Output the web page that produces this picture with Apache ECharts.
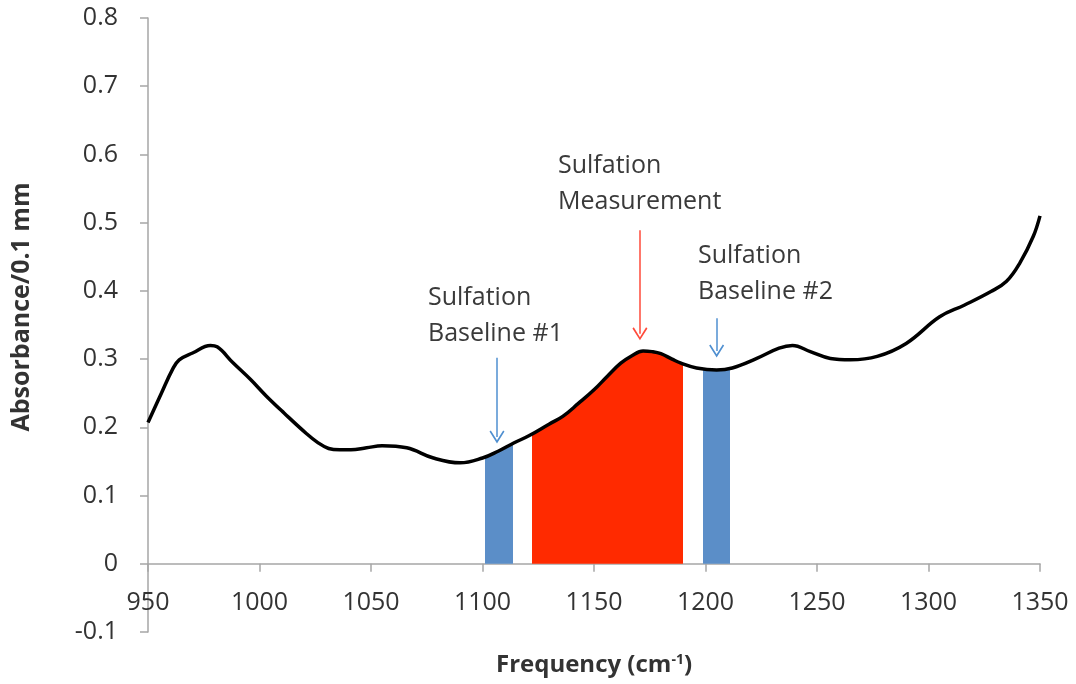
<!DOCTYPE html>
<html lang="en">
<head>
    <meta charset="UTF-8">
    <title>Sulfation</title>
    <script src="https://cdn.jsdelivr.net/npm/echarts@6/dist/echarts.min.js"></script>
</head>
<style>
    *{
        margin: 0;
        padding: 0;
    }
    html,body{
        width: 100%;
        height: 100%;
        overflow: hidden;
        background: #fff;
    }
    .container{
        width: 1076px;
        height: 684px;
    }
</style>
<body>
<div class="container"></div>
<script>
    // spectrum
    let freq = [950, 956, 961, 964, 970, 978, 981, 988, 996, 1003, 1011, 1021, 1026, 1031, 1036, 1041, 1048, 1055, 1066,
        1078, 1090, 1100, 1107, 1114, 1121, 1130, 1136, 1143, 1150, 1156, 1162, 1167, 1172, 1176, 1180,
        1185, 1189, 1196, 1205, 1212, 1223, 1233, 1239, 1247, 1256, 1265, 1277, 1290, 1305, 1316, 1328,
        1335, 1341, 1347, 1350];
    let absorbance = [0.207, 0.250, 0.285, 0.299, 0.309, 0.320, 0.318, 0.295, 0.270, 0.246, 0.221, 0.191,
        0.178, 0.169, 0.167, 0.167, 0.170, 0.173, 0.170, 0.155, 0.148, 0.155, 0.165, 0.177, 0.188, 0.205, 0.216, 0.235, 0.255,
        0.275, 0.294, 0.305, 0.312, 0.311, 0.308, 0.300, 0.294, 0.287, 0.284, 0.287, 0.301, 0.316, 0.320,
        0.311, 0.301, 0.299, 0.304, 0.323, 0.362, 0.379, 0.399, 0.414, 0.441, 0.480, 0.510];

    // shaded bands [from, to]
    let baseline1 = [1101, 1113.5];
    let measurement = [1122, 1190];
    let baseline2 = [1199, 1211];

    // arrows: [x, yStart, yEnd]
    let arrowB1 = [1106.5, 0.302, 0.186];
    let arrowM = [1170.6, 0.489, 0.337];
    let arrowB2 = [1205, 0.360, 0.312];

    let notes = [
        {text: 'Sulfation\nBaseline #1', left: 428, top: 280},
        {text: 'Sulfation\nMeasurement', left: 558, top: 148},
        {text: 'Sulfation\nBaseline #2', left: 698, top: 238}
    ];

    let yMin = -0.1, yMax = 0.8;
    let blue = '#5b8ec8';
    let red = '#ff2a00';
    let font = 'Open Sans';

    let data = freq.map((f, i) => [f, absorbance[i]]);

    let chevron = 'path://M50,0 L100,82 L91,90 L50,22 L9,90 L0,82 Z';
    let arrow = (a, color) => [
        {coord: [a[0], a[1]], lineStyle: {color: color, width: 1.5, type: 'solid'}, symbol: 'none'},
        {coord: [a[0], a[2]], symbol: chevron, symbolSize: [15, 13]}
    ];

    let gridTop = 18, gridBottom = 52;
    let plotH = 684 - gridTop - gridBottom;
    // x axis sits at y = 0
    let zeroOffset = -plotH * (0 - yMin) / (yMax - yMin);

    let mycharts = echarts.init(document.querySelector('.container'));

    let option = {
        animation: false,
        grid: {
            left: 148,
            right: 36,
            top: gridTop,
            bottom: gridBottom,
            outerBoundsMode: 'none'
        },
        xAxis: {
            type: 'value',
            min: 950,
            max: 1350,
            interval: 50,
            position: 'bottom',
            offset: zeroOffset,
            name: 'Frequency (cm{sup|-1})',
            nameLocation: 'middle',
            nameGap: 89,
            nameTextStyle: {
                fontFamily: font,
                fontWeight: 'bold',
                fontSize: 24,
                color: '#333',
                rich: {
                    sup: {fontFamily: font, fontWeight: 'bold', fontSize: 14, color: '#333', verticalAlign: 'top', padding: [0, 0, 10, 0]}
                }
            },
            splitLine: {show: false},
            axisLine: {onZero: false, lineStyle: {color: '#a6a6a6', width: 1.5}},
            axisTick: {length: 8, lineStyle: {color: '#a6a6a6', width: 1.5}},
            axisLabel: {margin: 27, fontFamily: font, fontSize: 25, color: '#333', formatter: v => v + ''}
        },
        yAxis: {
            type: 'value',
            min: yMin,
            max: yMax,
            interval: 0.1,
            name: 'Absorbance/0.1 mm',
            nameLocation: 'middle',
            nameGap: 114,
            nameTextStyle: {
                fontFamily: font,
                fontWeight: 'bold',
                fontSize: 25,
                color: '#333',
                padding: [0, 0, 0, 36]
            },
            splitLine: {show: false},
            axisLine: {show: true, lineStyle: {color: '#a6a6a6', width: 1.5}},
            axisTick: {show: true, length: 8, lineStyle: {color: '#a6a6a6', width: 1.5}},
            axisLabel: {
                margin: 30,
                fontFamily: font,
                fontSize: 25,
                color: '#333',
                formatter: v => Math.round(v * 10) / 10 + ''
            }
        },
        visualMap: {
            show: false,
            type: 'piecewise',
            seriesIndex: 0,
            dimension: 0,
            pieces: [
                {gte: baseline1[0], lte: baseline1[1], color: blue},
                {gte: measurement[0], lte: measurement[1], color: red},
                {gte: baseline2[0], lte: baseline2[1], color: blue}
            ],
            outOfRange: {color: 'rgba(255,255,255,0)'}
        },
        series: [
            {
                type: 'line',
                data: data,
                smooth: 0.4,
                showSymbol: false,
                silent: true,
                lineStyle: {width: 0},
                areaStyle: {opacity: 1},
                z: 1
            },
            {
                type: 'line',
                data: data,
                smooth: 0.4,
                showSymbol: false,
                silent: true,
                lineStyle: {color: '#000', width: 3.5},
                itemStyle: {color: '#000'},
                z: 3,
                markLine: {
                    silent: true,
                    animation: false,
                    label: {show: false},
                    emphasis: {disabled: true},
                    data: [
                        arrow(arrowB1, '#4f8fd0'),
                        arrow(arrowM, '#ff4a3a'),
                        arrow(arrowB2, '#4f8fd0')
                    ]
                }
            }
        ],
        graphic: notes.map(n => ({
            type: 'text',
            left: n.left,
            top: n.top,
            style: {
                text: n.text,
                fontFamily: font,
                fontSize: 25,
                lineHeight: 36,
                fill: '#3a3a3a'
            }
        }))
    };

    mycharts.setOption(option);
</script>
</body>
</html>
